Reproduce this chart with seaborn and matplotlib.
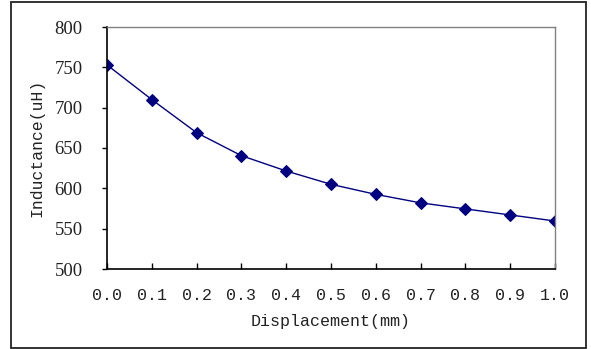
import matplotlib
matplotlib.use("Agg")
import matplotlib.pyplot as plt
import seaborn as sns
import pandas as pd
from matplotlib.patches import Rectangle

displacement = [0.0, 0.1, 0.2, 0.3, 0.4, 0.5, 0.6, 0.7, 0.8, 0.9, 1.0]
inductance = [753, 710, 669, 640.5, 621.5, 605, 592.5, 582, 574.5, 567, 559.5]
x_ticks = [0.0, 0.1, 0.2, 0.3, 0.4, 0.5, 0.6, 0.7, 0.8, 0.9, 1.0]
x_tick_labels = ["0.0", "0.1", "0.2", "0.3", "0.4", "0.5", "0.6", "0.7", "0.8", "0.9", "1.0"]
y_ticks = [500, 550, 600, 650, 700, 750, 800]

df = pd.DataFrame({"Displacement": displacement, "Inductance": inductance})

sns.set_theme(style="white")
W, H = 591, 349
fig = plt.figure(figsize=(W / 100, H / 100), dpi=100)
fig.patch.set_facecolor("white")

# outer border
fig.add_artist(Rectangle((11 / W, 1 - 348 / H), (586 - 11) / W, (348 - 2) / H,
                         transform=fig.transFigure, fill=False,
                         edgecolor="#222222", linewidth=1.3))

ax = fig.add_axes([107 / W, (H - 269) / H, 448 / W, 242 / H])
sns.lineplot(data=df, x="Displacement", y="Inductance", ax=ax, color="#000080",
             linewidth=1.0, marker="D", markersize=6.3, markeredgecolor="#000080",
             markerfacecolor="#000080")

ax.set_xlim(0, 1.0)
ax.set_ylim(500, 800)
ax.set_xticks(x_ticks)
ax.set_xticklabels(x_tick_labels, fontfamily="Liberation Mono", fontsize=12)
ax.set_yticks(y_ticks)
ax.set_yticklabels([str(v) for v in y_ticks], fontfamily="Liberation Serif", fontsize=13.5)

ax.tick_params(axis="x", direction="in", length=4.3, width=1, color="black", pad=14,
               bottom=True, labelcolor="#222222")
ax.tick_params(axis="y", direction="out", length=3.6, width=1, color="black", pad=14,
               left=True, labelcolor="#222222")

for s in ["left", "bottom"]:
    ax.spines[s].set_color("black")
    ax.spines[s].set_linewidth(1.2)
for s in ["top", "right"]:
    ax.spines[s].set_color("#808080")
    ax.spines[s].set_linewidth(1.0)

ax.set_xlabel("Displacement(mm)", fontfamily="Liberation Mono", fontsize=12,
              color="#222222")
ax.set_ylabel("Inductance(uH)", fontfamily="Liberation Mono", fontsize=11.8,
              color="#222222")
ax.xaxis.set_label_coords(0.5, (269 - 314) / 242)
ax.yaxis.set_label_coords((44 - 107) / 448, 0.5)

fig.savefig("out.png", dpi=100, facecolor="white")
